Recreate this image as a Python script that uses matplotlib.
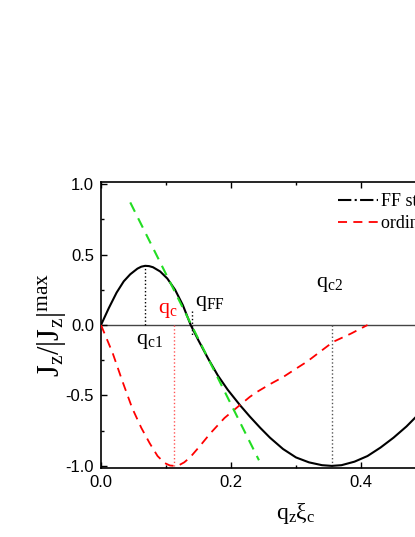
import matplotlib
matplotlib.use("Agg")
import matplotlib.pyplot as plt
from matplotlib.lines import Line2D
from matplotlib.ticker import FixedLocator, MultipleLocator

plt.rcParams['mathtext.fontset'] = 'custom'
plt.rcParams['mathtext.rm'] = 'Liberation Serif'
plt.rcParams['mathtext.it'] = 'Liberation Serif:italic'
plt.rcParams['axes.unicode_minus'] = False

# FF state current (black)
q_ff = [0.0, 0.012, 0.024, 0.035, 0.045, 0.056, 0.062, 0.068, 0.074, 0.080, 0.091, 0.102,
        0.114, 0.126, 0.138, 0.150, 0.165, 0.180, 0.195, 0.214, 0.229, 0.245,
        0.260, 0.280, 0.300, 0.320, 0.340, 0.355, 0.370, 0.390, 0.410, 0.430,
        0.450, 0.470, 0.485, 0.500]
j_ff = [0.0, 0.12, 0.23, 0.31, 0.36, 0.40, 0.414, 0.42, 0.418, 0.41, 0.38, 0.33,
        0.25, 0.14, 0.0, -0.11, -0.24, -0.36, -0.46, -0.57, -0.65, -0.73,
        -0.80, -0.88, -0.94, -0.975, -0.995, -1.0, -0.995, -0.97, -0.93, -0.87,
        -0.80, -0.72, -0.65, -0.57]

# ordinary state current (red dashed)
q_ord = [0.0, 0.018, 0.033, 0.048, 0.062, 0.075, 0.087, 0.098, 0.106, 0.113, 0.120,
         0.128, 0.137, 0.152, 0.168, 0.190, 0.214, 0.229, 0.240, 0.260, 0.280, 0.300,
         0.317, 0.337, 0.357, 0.385, 0.410]
j_ord = [0.0, -0.20, -0.40, -0.59, -0.73, -0.84, -0.93, -0.98, -0.997, -1.0, -0.995,
         -0.975, -0.94, -0.86, -0.77, -0.66, -0.567, -0.51, -0.475, -0.42, -0.37, -0.31,
         -0.26, -0.19, -0.12, -0.06, 0.0]

# tangent at q_FF (green dashed)
q_tan = [0.045, 0.243]
j_tan = [0.87, -0.96]

# marked wave vectors
q_c1, j_c1 = 0.068, 0.42
q_c, j_c = 0.113, -1.0
q_FF = 0.140
q_c2, j_c2 = 0.355, -1.0

fig = plt.figure(figsize=(4.15, 5.37), dpi=100)
ax = fig.add_axes([101/415, 69/537, 390/415, 286/537])

ax.axhline(0, color='#444444', lw=1.0, zorder=1)
ax.plot(q_ff, j_ff, color='black', lw=1.5, zorder=3)
ax.plot(q_ord, j_ord, color='red', lw=1.3, dashes=(5, 3.5), zorder=3)
ax.plot(q_tan, j_tan, color='#22dd22', lw=1.5, dashes=(5, 3.5), zorder=4)

ax.plot([q_c1, q_c1], [0, j_c1], color='black', ls=':', lw=1.0)
ax.plot([q_c, q_c], [0, j_c], color='#ff5555', ls=':', lw=1.0)
ax.plot([q_FF, q_FF], [0.1, -0.07], color='black', ls=':', lw=1.0)
ax.plot([q_c2, q_c2], [0, j_c2], color='#555555', ls=':', lw=1.0)

lab = dict(family='Liberation Serif', fontsize=16, ha='center', va='center')
ax.text(0.075, -0.12, r'q$_\mathrm{c1}$', **lab)
ax.text(0.103, 0.10, r'q$_\mathrm{c}$', color='red', **lab)
ax.text(0.168, 0.156, r'q$_\mathrm{FF}$', **lab)
ax.text(0.352, 0.29, r'q$_\mathrm{c2}$', **lab)

ax.set_xlim(0, 0.6)
ax.set_ylim(-1.015, 1.015)
ax.xaxis.set_major_locator(FixedLocator([0.0, 0.2, 0.4]))
ax.xaxis.set_minor_locator(MultipleLocator(0.1))
ax.yaxis.set_major_locator(MultipleLocator(0.5))
ax.yaxis.set_minor_locator(MultipleLocator(0.25))
ax.tick_params(which='both', direction='in', top=True, right=True, width=1.0)
ax.tick_params(which='major', length=4.5, labelsize=12, pad=5)
ax.tick_params(which='minor', length=2.5)
for lbl in ax.get_xticklabels() + ax.get_yticklabels():
    lbl.set_family('Liberation Sans')
for sp in ax.spines.values():
    sp.set_linewidth(1.2)

ax.set_xlabel(r'q$_\mathrm{z}$ξ$_\mathrm{c}$', family='Liberation Serif', fontsize=17, labelpad=8)
ax.set_ylabel(r'J$_\mathrm{z}$/|J$_\mathrm{z}$|$^\mathrm{max}$', family='Liberation Serif', fontsize=22)
ax.yaxis.set_label_coords(-0.084, 0.5)

handles = [Line2D([], [], color='black', lw=1.5, ls='-.'),
           Line2D([], [], color='red', lw=1.3, dashes=(5, 3.5))]
ax.legend(handles, ['FF state', 'ordinary state'], loc='upper left',
          bbox_to_anchor=(0.608, 0.962), frameon=False, borderpad=0, borderaxespad=0,
          handlelength=2.2, handletextpad=0.2, labelspacing=0.3,
          prop={'family': 'Liberation Serif', 'size': 13})

fig.savefig('out.png', dpi=100)
